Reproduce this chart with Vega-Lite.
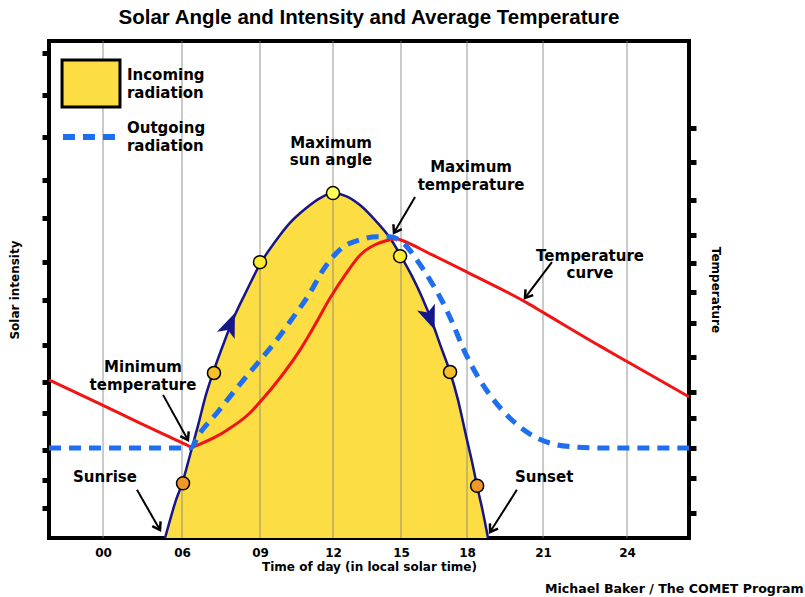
{
  "$schema": "https://vega.github.io/schema/vega-lite/v6.json",
  "width": 640,
  "height": 497,
  "autosize": "none",
  "padding": {"left": 49, "top": 41, "right": 116, "bottom": 59},
  "background": "white",
  "title": {"text": "Solar Angle and Intensity and Average Temperature", "font": "Liberation Sans", "fontSize": 20.5, "fontWeight": "bold", "anchor": "middle", "offset": 12, "color": "black"},
  "config": {"font": "DejaVu Sans", "view": {"stroke": "black", "strokeWidth": 4}},
  "datasets": {
    "incoming": [
      {"hour": 4.71, "value": 0}, {"hour": 5.09, "value": 3.6}, {"hour": 5.54, "value": 7.6}, {"hour": 6.0, "value": 10.9},
      {"hour": 6.31, "value": 16.7}, {"hour": 6.62, "value": 22.7}, {"hour": 6.92, "value": 28.8}, {"hour": 7.23, "value": 33.8},
      {"hour": 7.62, "value": 39.4}, {"hour": 8.04, "value": 44.9}, {"hour": 8.5, "value": 49.9}, {"hour": 9.0, "value": 55.1},
      {"hour": 9.62, "value": 59.6}, {"hour": 10.23, "value": 63.4}, {"hour": 10.85, "value": 66.2}, {"hour": 11.47, "value": 68.4},
      {"hour": 12.0, "value": 69.4}, {"hour": 12.57, "value": 68.8}, {"hour": 13.19, "value": 67.0}, {"hour": 13.85, "value": 64.0},
      {"hour": 14.51, "value": 60.4}, {"hour": 15.0, "value": 56.7}, {"hour": 15.5, "value": 52.7}, {"hour": 15.95, "value": 48.5},
      {"hour": 16.41, "value": 43.5}, {"hour": 16.82, "value": 38.4}, {"hour": 17.23, "value": 33.4}, {"hour": 17.59, "value": 27.8},
      {"hour": 17.95, "value": 20.7}, {"hour": 18.2, "value": 15.3}, {"hour": 18.43, "value": 9.7}, {"hour": 18.63, "value": 5.2},
      {"hour": 18.83, "value": 0}
    ],
    "temperature": [
      {"hour": -4.1, "value": 31.8}, {"hour": -0.23, "value": 27.0}, {"hour": 2.81, "value": 23.1}, {"hour": 5.09, "value": 20.3},
      {"hour": 6.12, "value": 18.9}, {"hour": 6.38, "value": 18.3}, {"hour": 6.69, "value": 18.9}, {"hour": 7.27, "value": 20.3},
      {"hour": 7.73, "value": 21.7}, {"hour": 8.62, "value": 25.2}, {"hour": 9.08, "value": 27.8}, {"hour": 9.82, "value": 32.2},
      {"hour": 10.64, "value": 37.8}, {"hour": 11.26, "value": 42.9}, {"hour": 11.88, "value": 48.3}, {"hour": 12.53, "value": 52.9},
      {"hour": 13.19, "value": 56.9}, {"hour": 13.85, "value": 59.0}, {"hour": 14.34, "value": 59.8}, {"hour": 14.82, "value": 60.2},
      {"hour": 14.96, "value": 60.0}, {"hour": 16.45, "value": 56.9}, {"hour": 18.0, "value": 53.5}, {"hour": 20.37, "value": 47.3},
      {"hour": 21.0, "value": 45.4}, {"hour": 23.04, "value": 38.6}, {"hour": 24.0, "value": 35.5}, {"hour": 26.21, "value": 28.4}
    ],
    "outgoing": [
      {"hour": -4.1, "value": 18.1}, {"hour": 6.31, "value": 18.1}, {"hour": 6.69, "value": 21.1}, {"hour": 7.35, "value": 25.2},
      {"hour": 7.96, "value": 29.2}, {"hour": 8.62, "value": 33.4}, {"hour": 9.08, "value": 36.2}, {"hour": 9.62, "value": 39.4},
      {"hour": 10.23, "value": 43.5}, {"hour": 11.05, "value": 49.3}, {"hour": 11.59, "value": 53.9}, {"hour": 12.44, "value": 58.5},
      {"hour": 13.19, "value": 60.0}, {"hour": 13.94, "value": 60.6}, {"hour": 14.51, "value": 60.6}, {"hour": 15.09, "value": 59.4},
      {"hour": 15.73, "value": 55.9}, {"hour": 16.32, "value": 51.9}, {"hour": 16.77, "value": 48.5}, {"hour": 17.32, "value": 43.5},
      {"hour": 17.86, "value": 37.8}, {"hour": 18.39, "value": 32.8}, {"hour": 18.99, "value": 28.2}, {"hour": 19.7, "value": 24.1},
      {"hour": 20.49, "value": 20.9}, {"hour": 21.25, "value": 19.1}, {"hour": 22.14, "value": 18.3}, {"hour": 23.04, "value": 18.1},
      {"hour": 26.21, "value": 18.1}
    ],
    "grid": [{"hour": 0}, {"hour": 6}, {"hour": 9}, {"hour": 12}, {"hour": 15}, {"hour": 18}, {"hour": 21}, {"hour": 24}],
    "dots": [
      {"hour": 6.04, "value": 11.0, "tone": "low"}, {"hour": 7.23, "value": 33.2, "tone": "mid"},
      {"hour": 9.0, "value": 55.5, "tone": "high"}, {"hour": 12.0, "value": 69.4, "tone": "peak"},
      {"hour": 14.96, "value": 56.7, "tone": "high"}, {"hour": 17.23, "value": 33.4, "tone": "mid"},
      {"hour": 18.4, "value": 10.5, "tone": "low"}
    ],
    "curveArrows": [{"hour": 7.85, "value": 42.9, "heading": 22}, {"hour": 16.32, "value": 44.3, "heading": 159}],
    "arrows": [
      {"hour": 15.64, "value": 68.6, "hour2": 14.69, "value2": 61.4, "heading": 210},
      {"hour": 21.32, "value": 55.5, "hour2": 20.29, "value2": 48.3, "heading": 217},
      {"hour": 4.56, "value": 28.8, "hour2": 6.23, "value2": 19.7, "heading": 151},
      {"hour": 2.58, "value": 9.7, "hour2": 4.33, "value2": 1.6, "heading": 150},
      {"hour": 19.97, "value": 9.7, "hour2": 18.91, "value2": 1.2, "heading": 213}
    ],
    "notes": [
      {"hour": 11.92, "value": 79.5, "text": "Maximum"}, {"hour": 11.92, "value": 76.1, "text": "sun angle"},
      {"hour": 18.16, "value": 74.6, "text": "Maximum"}, {"hour": 18.16, "value": 71.0, "text": "temperature"},
      {"hour": 22.68, "value": 56.7, "text": "Temperature"}, {"hour": 22.68, "value": 53.3, "text": "curve"},
      {"hour": 3.04, "value": 34.4, "text": "Minimum"}, {"hour": 3.04, "value": 30.8, "text": "temperature"},
      {"hour": 0.15, "value": 12.3, "text": "Sunrise"}, {"hour": 21.04, "value": 12.3, "text": "Sunset"}
    ],
    "legendBox": [{"hour": -3.11, "hour2": 1.29, "value": 86.7, "value2": 96.2}],
    "legendDash": [{"hour": -3.04, "hour2": 1.06, "value": 80.7}],
    "legendText": [
      {"hour": 1.82, "value": 93.2, "text": "Incoming"}, {"hour": 1.82, "value": 89.5, "text": "radiation"},
      {"hour": 1.82, "value": 82.5, "text": "Outgoing"}, {"hour": 1.82, "value": 78.9, "text": "radiation"}
    ],
    "credit": [{"hour": 21.07, "value": -10.3, "text": "Michael Baker / The COMET Program"}]
  },
  "layer": [
    {
      "layer": [
        {
          "data": {"name": "incoming"},
          "mark": {"type": "area", "interpolate": "monotone", "color": "#fddd44"},
          "encoding": {
            "x": {"field": "hour", "type": "quantitative", "title": "Time of day (in local solar time)",
              "scale": {"domain": [-4.1, 0, 6, 9, 12, 15, 18, 21, 24, 26.21], "range": [0, 54, 133, 211, 284, 352, 418, 494, 578, 640], "nice": false, "zero": false},
              "axis": {"values": [0, 6, 9, 12, 15, 18, 21, 24], "labelExpr": "datum.value < 10 ? '0' + datum.value : '' + datum.value",
                "grid": false, "ticks": false, "tickSize": 0, "domain": false, "labelFont": "DejaVu Sans", "labelFontSize": 12, "labelFontWeight": "bold",
                "labelColor": "black", "labelPadding": 9, "labelFlush": false, "labelOverlap": false,
                "titleFont": "DejaVu Sans", "titleFontSize": 12, "titleFontWeight": "bold", "titleColor": "black", "titlePadding": 3}},
            "y": {"field": "value", "type": "quantitative", "title": "Solar intensity",
              "scale": {"domain": [0, 100], "nice": false, "zero": false},
              "axis": {"values": [97.6, 89.1, 80.7, 72.0, 64.4, 55.5, 47.9, 38.8, 31.4, 25.2, 17.7, 11.7, 6.0],
                "labels": false, "grid": false, "domain": false, "tickSize": 7, "tickWidth": 5, "tickColor": "black",
                "titleFont": "DejaVu Sans", "titleFontSize": 12, "titleFontWeight": "bold", "titleColor": "black", "titlePadding": 18}}
          }
        },
        {
          "data": {"name": "grid"},
          "mark": {"type": "rule", "color": "#808080", "opacity": 0.55, "strokeWidth": 1.5},
          "encoding": {"x": {"field": "hour", "type": "quantitative"}}
        },
        {
          "data": {"name": "incoming"},
          "mark": {"type": "line", "interpolate": "monotone", "color": "#16168a", "strokeWidth": 2.5},
          "encoding": {"x": {"field": "hour", "type": "quantitative"}, "y": {"field": "value", "type": "quantitative"}}
        },
        {
          "data": {"name": "temperature"},
          "mark": {"type": "line", "interpolate": "monotone", "color": "#f01414", "strokeWidth": 3},
          "encoding": {"x": {"field": "hour", "type": "quantitative"}, "y": {"field": "value", "type": "quantitative"}}
        }
      ]
    },
    {
      "layer": [
        {
          "data": {"name": "outgoing"},
          "mark": {"type": "line", "interpolate": "monotone", "color": "#1e6ff0", "strokeWidth": 5, "strokeDash": [12, 8], "strokeCap": "butt"},
          "encoding": {
            "x": {"field": "hour", "type": "quantitative"},
            "y": {"field": "value", "type": "quantitative", "title": "Temperature",
              "scale": {"domain": [0, 100], "nice": false, "zero": false},
              "axis": {"orient": "right", "values": [82.5, 75.7, 68.0, 61.0, 55.3, 49.5, 43.3, 36.4, 29.4, 24.1, 18.1, 12.1, 5.0],
                "labels": false, "grid": false, "domain": false, "tickSize": 7, "tickWidth": 5, "tickColor": "black",
                "titleFont": "DejaVu Sans", "titleFontSize": 12, "titleFontWeight": "bold", "titleColor": "black", "titlePadding": 10}}
          }
        },
        {
          "data": {"name": "dots"},
          "mark": {"type": "point", "shape": "circle", "filled": true, "size": 170, "stroke": "black", "strokeWidth": 1.5, "opacity": 1},
          "encoding": {
            "x": {"field": "hour", "type": "quantitative"},
            "y": {"field": "value", "type": "quantitative"},
            "fill": {"field": "tone", "type": "nominal", "legend": null,
              "scale": {"domain": ["low", "mid", "high", "peak"], "range": ["#f0962a", "#f6bd2c", "#fbeb33", "#ffff55"]}}
          }
        },
        {
          "data": {"name": "curveArrows"},
          "mark": {"type": "point", "shape": "M0,-1L0.75,0.9L0,0.45L-0.75,0.9Z", "filled": true, "size": 650, "color": "#16168a", "opacity": 1},
          "encoding": {
            "x": {"field": "hour", "type": "quantitative"},
            "y": {"field": "value", "type": "quantitative"},
            "angle": {"field": "heading", "type": "quantitative", "scale": null}
          }
        },
        {
          "data": {"name": "arrows"},
          "mark": {"type": "rule", "color": "black", "strokeWidth": 2},
          "encoding": {
            "x": {"field": "hour", "type": "quantitative"}, "y": {"field": "value", "type": "quantitative"},
            "x2": {"field": "hour2"}, "y2": {"field": "value2"}
          }
        },
        {
          "data": {"name": "arrows"},
          "mark": {"type": "point", "shape": "M-0.6,0.9L0,0L0.6,0.9", "filled": false, "size": 256, "stroke": "black", "strokeWidth": 2.5, "opacity": 1},
          "encoding": {
            "x": {"field": "hour2", "type": "quantitative"},
            "y": {"field": "value2", "type": "quantitative"},
            "angle": {"field": "heading", "type": "quantitative", "scale": null}
          }
        },
        {
          "data": {"name": "notes"},
          "mark": {"type": "text", "font": "DejaVu Sans", "fontSize": 15, "fontWeight": "bold", "color": "black", "align": "center", "baseline": "middle"},
          "encoding": {
            "x": {"field": "hour", "type": "quantitative"}, "y": {"field": "value", "type": "quantitative"},
            "text": {"field": "text"}
          }
        },
        {
          "data": {"name": "legendBox"},
          "mark": {"type": "rect", "fill": "#fddd44", "stroke": "black", "strokeWidth": 3},
          "encoding": {
            "x": {"field": "hour", "type": "quantitative"}, "x2": {"field": "hour2"},
            "y": {"field": "value", "type": "quantitative"}, "y2": {"field": "value2"}
          }
        },
        {
          "data": {"name": "legendDash"},
          "mark": {"type": "rule", "color": "#1e6ff0", "strokeWidth": 6, "strokeDash": [12, 8], "strokeCap": "butt"},
          "encoding": {
            "x": {"field": "hour", "type": "quantitative"}, "x2": {"field": "hour2"},
            "y": {"field": "value", "type": "quantitative"}
          }
        },
        {
          "data": {"name": "legendText"},
          "mark": {"type": "text", "font": "DejaVu Sans", "fontSize": 15, "fontWeight": "bold", "color": "black", "align": "left", "baseline": "middle"},
          "encoding": {
            "x": {"field": "hour", "type": "quantitative"}, "y": {"field": "value", "type": "quantitative"},
            "text": {"field": "text"}
          }
        },
        {
          "data": {"name": "credit"},
          "mark": {"type": "text", "font": "DejaVu Sans", "fontSize": 12.6, "fontWeight": "bold", "color": "black", "align": "left", "baseline": "middle"},
          "encoding": {
            "x": {"field": "hour", "type": "quantitative"}, "y": {"field": "value", "type": "quantitative"},
            "text": {"field": "text"}
          }
        }
      ]
    }
  ],
  "resolve": {"scale": {"y": "independent"}}
}
